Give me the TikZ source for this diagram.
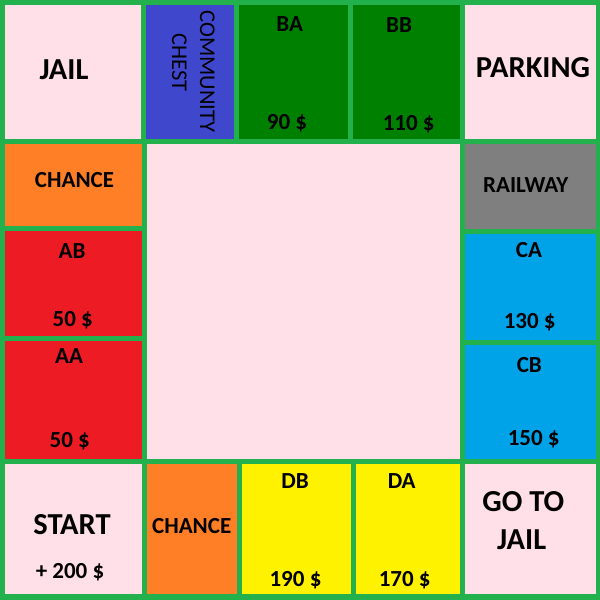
\documentclass[tikz,border=0pt]{standalone}
\usepackage{fontspec}
\setmainfont{Carlito}
\definecolor{bgreen}{HTML}{22B14C}
\definecolor{pinkc}{HTML}{FFDFE8}
\definecolor{bluec}{HTML}{3F48CC}
\definecolor{dgreen}{HTML}{008000}
\definecolor{orangec}{HTML}{FF7F27}
\definecolor{redc}{HTML}{ED1C24}
\definecolor{cyanc}{HTML}{00A2E8}
\definecolor{grayc}{HTML}{7F7F7F}
\definecolor{yellowc}{HTML}{FFF200}
\tikzset{
  big/.style={anchor=base, inner sep=0pt, font=\fontsize{30.5}{31}\selectfont\bfseries},
  small/.style={anchor=base, inner sep=0pt, font=\fontsize{23}{27}\selectfont\bfseries},
  thin/.style={anchor=base, inner sep=0pt, rotate=-90, font=\fontsize{22.5}{27}\selectfont},
}
\begin{document}
\begin{tikzpicture}[x=1pt,y=-1pt]
\useasboundingbox (0,0) rectangle (600,600);
\fill[bgreen] (0,0) rectangle (600,600);
% top row
\fill[pinkc] (5,5) rectangle (141,139);
\fill[bluec] (146,5) rectangle (234,139);
\fill[dgreen] (239,5) rectangle (348,139);
\fill[dgreen] (353,5) rectangle (460,139);
\fill[pinkc] (465,5) rectangle (596,139);
% left column
\fill[orangec] (5,144) rectangle (142,226);
\fill[redc] (5,231) rectangle (142,336);
\fill[redc] (5,341) rectangle (142,459);
% center
\fill[pinkc] (147,144) rectangle (460,459);
% right column
\fill[grayc] (465,144) rectangle (596,229);
\fill[cyanc] (465,234) rectangle (596,340);
\fill[cyanc] (465,345) rectangle (596,459);
% bottom row
\fill[pinkc] (5,464) rectangle (142,594);
\fill[orangec] (147,464) rectangle (237,594);
\fill[yellowc] (242,464) rectangle (351,594);
\fill[yellowc] (356,464) rectangle (460,594);
\fill[pinkc] (465,464) rectangle (596,594);
% texts
\node[big] (jail) at (64,79) {JAIL};
\node[thin] (comm) at (200,71.5) {COMMUNITY};
\node[thin] (chest) at (172,62.5) {CHEST};
\node[small] (ba) at (289.7,31) {BA};
\node[small] (bap) at (287,129) {90 \$};
\node[small] (bb) at (399,32) {BB};
\node[small] (bbp) at (408.7,130.7) {110 \$};
\node[big] (park) at (533,77.3) {PARKING};
\node[small] (ch1) at (74.5,187.3) {CHANCE};
\node[small] (ab) at (72,258.3) {AB};
\node[small] (abp) at (72.7,326.7) {50 \$};
\node[small] (aa) at (69,363.3) {AA};
\node[small] (aap) at (69.7,447.7) {50 \$};
\node[small] (rail) at (525.8,192.3) {RAILWAY};
\node[small] (ca) at (529,257.3) {CA};
\node[small] (cap) at (529.7,328.3) {130 \$};
\node[small] (cb) at (529.3,372.3) {CB};
\node[small] (cbp) at (533.7,445.7) {150 \$};
\node[big] (start) at (72,534) {START};
\node[small] (startp) at (70,578.3) {+ 200 \$};
\node[small] (ch2) at (191.7,533.3) {CHANCE};
\node[small] (db) at (295,488.3) {DB};
\node[small] (dbp) at (295.5,586) {190 \$};
\node[small] (da) at (401.7,488.3) {DA};
\node[small] (dap) at (404.7,586.7) {170 \$};
\node[big] (goto) at (523.3,511.7) {GO TO};
\node[big] (gjail) at (521.7,549) {JAIL};
\end{tikzpicture}
\end{document}
